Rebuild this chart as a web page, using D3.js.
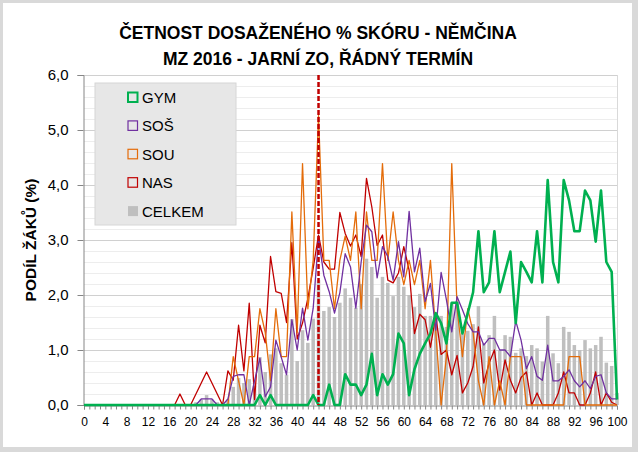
<!DOCTYPE html>
<html>
<head>
<meta charset="utf-8">
<script src="https://cdn.jsdelivr.net/npm/d3@7"></script>
<style>
html,body{margin:0;padding:0;background:#fff;}
svg{display:block;font-family:"Liberation Sans",Arial,sans-serif;}
</style>
</head>
<body>
<svg id="c" width="638" height="452"></svg>
<script>
// ---- data ----
const scores = [0,1,2,3,4,5,6,7,8,9,10,11,12,13,14,15,16,17,18,19,20,21,22,23,24,25,26,27,28,29,30,31,32,33,34,35,36,37,38,39,40,41,42,43,44,45,46,47,48,49,50,51,52,53,54,55,56,57,58,59,60,61,62,63,64,65,66,67,68,69,70,71,72,73,74,75,76,77,78,79,80,81,82,83,84,85,86,87,88,89,90,91,92,93,94,95,96,97,98,99,100];
const xTickLabels = [0,4,8,12,16,20,24,28,32,36,40,44,48,52,56,60,64,68,72,76,80,84,88,92,96,100];
const yTickValues = [0,1,2,3,4,5,6];
const seriesNames = ["GYM","SOŠ","SOU","NAS","CELKEM"];
const meanScore = 44;

const GYM = [0,0,0,0,0,0,0,0,0,0, 0,0,0,0,0,0,0,0,0,0, 0,0,0,0,0,0,0,0,0,0,
 0,0,0,0.18,0,0.18,0,0,0,0, 0,0,0,0.18,0,0,0.37,0,0,0.56,
 0.37,0.37,0.18,0.37,0.93,0.18,0.56,0.37,0.56,1.3, 1.12,0.18,0.65,0.93,1.12,1.3,1.67,1.49,1.12,1.86,
 1.86,1.3,1.67,2.05,3.16,2.05,2.23,3.16,2.05,2.42, 2.79,1.49,2.6,2.42,2.23,3.16,2.23,4.09,2.6,2.23,
 4.09,3.72,3.16,3.16,3.9,3.72,2.97,3.9,2.6,2.42, 0.1];
const SOS = [0,0,0,0,0,0,0,0,0,0, 0,0,0,0,0,0,0,0,0,0, 0,0,0.11,0.11,0.11,0,0,0.11,0.52,0.55,
 0.55,0,0.44,0.85,0.15,0.33,1.18,0.87,0.55,1.55, 1.0,1.76,1.18,1.76,3.03,2.36,2.06,1.67,2.04,2.75,
 2.51,1.76,2.6,3.27,3.15,2.31,2.88,2.7,2.27,2.97, 2.33,3.52,2.42,2.85,1.88,2.21,1.36,2.41,1.91,1.33,
 1.97,1.73,1.48,1.33,1.33,1.09,1.21,1.21,1.0,1.0, 0.88,1.53,1.18,0.66,0.88,0.52,0.45,1.09,0.44,0.44,
 0.52,0.64,0.44,0.33,0.44,0.3,0.52,0.55,0.22,0.11, 0.11];
const SOU = [0,0,0,0,0,0,0,0,0,0, 0,0,0,0,0,0,0,0,0,0, 0,0,0,0,0,0,0,0,0.88,0.44,
 0,0.88,0.88,1.75,1.32,0.44,1.75,0.88,0.88,3.51, 1.32,4.39,1.75,2.63,5.26,2.63,2.63,1.75,2.63,3.07,
 2.63,3.51,1.75,3.51,2.63,2.63,4.39,2.63,3.51,2.63, 2.19,2.63,2.19,2.63,1.75,2.63,1.32,0,0.88,4.39,
 1.75,0.88,1.75,1.32,0.44,0,0.88,0,0.44,0, 0.88,0.88,0.88,0,0,0,0,0,0,0,
 0,0.88,0.88,0.88,0,0,0,0,0,0, 0];
const NAS = [0,0,0,0,0,0,0,0,0,0, 0,0,0,0,0,0,0,0,0.2,0, 0,0.2,0.4,0.6,0.4,0.2,0,0.62,0.45,1.45,
 0.62,1.85,0.1,1.45,1.13,2.7,2.06,2.03,1.5,2.95, 1.2,1.49,1.94,2.49,3.09,2.6,2.47,2.47,3.5,3.12,
 2.89,3.09,2.7,4.12,3.6,2.9,3.09,2.27,2.22,2.4, 2.88,2.45,1.3,1.65,1.55,1.05,1.62,0.92,1.0,0.55,
 0.9,0.22,0.4,0.7,1.42,0.4,0.76,1.0,0.27,0.82, 0.45,0.22,0.5,0.6,0,0.22,0,0,0,0.22,
 0.6,0.22,0.22,0,0,0.22,0.6,0,0.22,0.05, 0];
const CELKEM = [0,0,0,0,0,0,0,0,0,0, 0,0,0,0,0,0,0,0,0,0, 0,0.05,0.1,0.18,0.1,0.05,0,0.1,0.33,0.49,
 0.4,0.47,0.35,0.87,0.6,0.92,1.03,0.76,0.55,1.56, 0.8,1.36,1.13,1.57,2.27,1.71,1.78,1.6,1.86,2.12,
 1.95,1.77,2.2,2.66,2.51,1.95,2.33,2.22,1.98,2.33, 2.15,2.0,1.78,2.02,1.62,1.62,1.62,1.62,1.42,1.86,
 1.88,1.3,1.35,1.47,1.8,1.12,1.27,1.62,1.0,1.27, 1.24,0.95,1.03,0.89,1.09,1.03,0.79,1.62,0.94,0.76,
 1.42,1.33,1.09,1.0,1.18,1.03,1.09,1.24,0.77,0.71, 0.22];

// ---- chart ----
const W = 638, H = 452;
const svg = d3.select("#c");
const colors = {GYM:"#00B050", "SOŠ":"#7030A0", SOU:"#E46C0A", NAS:"#C00000", CELKEM:"#BFBFBF"};

// outer frame
svg.append("rect").attr("x",0).attr("y",0).attr("width",W).attr("height",H).attr("fill","#D9D9D9");
svg.append("rect").attr("x",3).attr("y",3).attr("width",W-9).attr("height",H-8).attr("fill","#fff");

const x = d3.scaleLinear().domain([0,100]).range([84,617]);
const y = d3.scaleLinear().domain([0,6]).range([405,75]);

// minor gridlines
const minor = d3.range(0,30).map(i=>i*0.2).filter(v=>Math.abs(v-Math.round(v))>1e-6);
svg.append("g").selectAll("line").data(minor).join("line")
  .attr("x1",x(0)).attr("x2",x(100)).attr("y1",d=>y(d)).attr("y2",d=>y(d))
  .attr("stroke","#EDEDED").attr("stroke-width",1).attr("shape-rendering","crispEdges");
// major gridlines
svg.append("g").selectAll("line").data(yTickValues.filter(v=>v>0)).join("line")
  .attr("x1",x(0)).attr("x2",x(100)).attr("y1",d=>y(d)).attr("y2",d=>y(d))
  .attr("stroke","#D0D0D0").attr("stroke-width",1).attr("shape-rendering","crispEdges");
// right border of plot
svg.append("line").attr("x1",x(100)).attr("x2",x(100)).attr("y1",y(6)).attr("y2",y(0))
  .attr("stroke","#D9D9D9").attr("shape-rendering","crispEdges");

// bars
const bw = (x(1)-x(0))*0.66;
svg.append("g").selectAll("rect").data(scores).join("rect")
  .attr("x",d=>x(d)-bw/2).attr("width",bw)
  .attr("y",(d,i)=>y(CELKEM[i])).attr("height",(d,i)=>y(0)-y(CELKEM[i]))
  .attr("fill",colors.CELKEM);

// y axis
const yAxis = d3.axisLeft(y).tickValues(yTickValues).tickSize(6).tickPadding(9)
  .tickFormat(d=>d3.format(".1f")(d).replace(".",","));
const gy = svg.append("g").attr("transform",`translate(${x(0)-0.5},0)`).call(yAxis);
gy.select(".domain").attr("stroke","#868686");
gy.selectAll(".tick line").attr("stroke","#868686");
gy.selectAll("text").attr("font-size",15).attr("fill","#000").attr("font-family","Liberation Sans, Arial, sans-serif");

// x axis
const xAxis = d3.axisBottom(x).tickValues(scores).tickSize(4).tickPadding(8)
  .tickFormat(d=>xTickLabels.includes(d)?d:"");
const gx = svg.append("g").attr("transform",`translate(0,${y(0)+0.5})`).call(xAxis);
gx.select(".domain").attr("stroke","#868686");
gx.selectAll(".tick line").attr("stroke","#868686");
gx.selectAll("text").attr("font-size",12).attr("fill","#000").attr("font-family","Liberation Sans, Arial, sans-serif");

// lines
const line = arr => d3.line().x((d,i)=>x(scores[i])).y(d=>y(d))(arr);
const drawOrder = [["NAS",NAS,1.3],["SOU",SOU,1.3],["SOŠ",SOS,1.3],["GYM",GYM,2.6]];
drawOrder.forEach(([name,arr,w])=>{
  svg.append("path").attr("d",line(arr)).attr("fill","none")
    .attr("stroke",colors[name]).attr("stroke-width",w).attr("stroke-linejoin","round");
});

// mean line
svg.append("line").attr("x1",x(meanScore)).attr("x2",x(meanScore))
  .attr("y1",y(6)).attr("y2",y(0))
  .attr("stroke","#C00000").attr("stroke-width",2.5).attr("stroke-dasharray","5,2");

// legend
const lg = svg.append("g");
lg.append("rect").attr("x",95).attr("y",83).attr("width",141).attr("height",142)
  .attr("fill","#E7E7E7").attr("stroke","#D6D6D6");
seriesNames.forEach((n,i)=>{
  const cy = 97.5 + i*28.4;
  if(n==="CELKEM"){
    lg.append("rect").attr("x",128).attr("y",cy-5).attr("width",10).attr("height",10).attr("fill",colors[n]);
  } else {
    lg.append("rect").attr("x",128).attr("y",cy-5).attr("width",9.5).attr("height",9.5)
      .attr("fill","none").attr("stroke",colors[n]).attr("stroke-width",n==="GYM"?2:1.2);
  }
  lg.append("text").attr("x",142).attr("y",cy+5.5).attr("font-size",15).text(n);
});

// titles
svg.append("text").attr("x",318).attr("y",39).attr("text-anchor","middle")
  .attr("font-size",17.5).attr("font-weight","bold").text("ČETNOST DOSAŽENÉHO % SKÓRU - NĚMČINA");
svg.append("text").attr("x",318).attr("y",65).attr("text-anchor","middle")
  .attr("font-size",17.5).attr("font-weight","bold").text("MZ 2016 - JARNÍ ZO, ŘÁDNÝ TERMÍN");
svg.append("text").attr("transform","translate(36,240) rotate(-90)").attr("text-anchor","middle")
  .attr("font-size",15.5).attr("font-weight","bold").text("PODÍL ŽÁKŮ (%)");
</script>
</body>
</html>
